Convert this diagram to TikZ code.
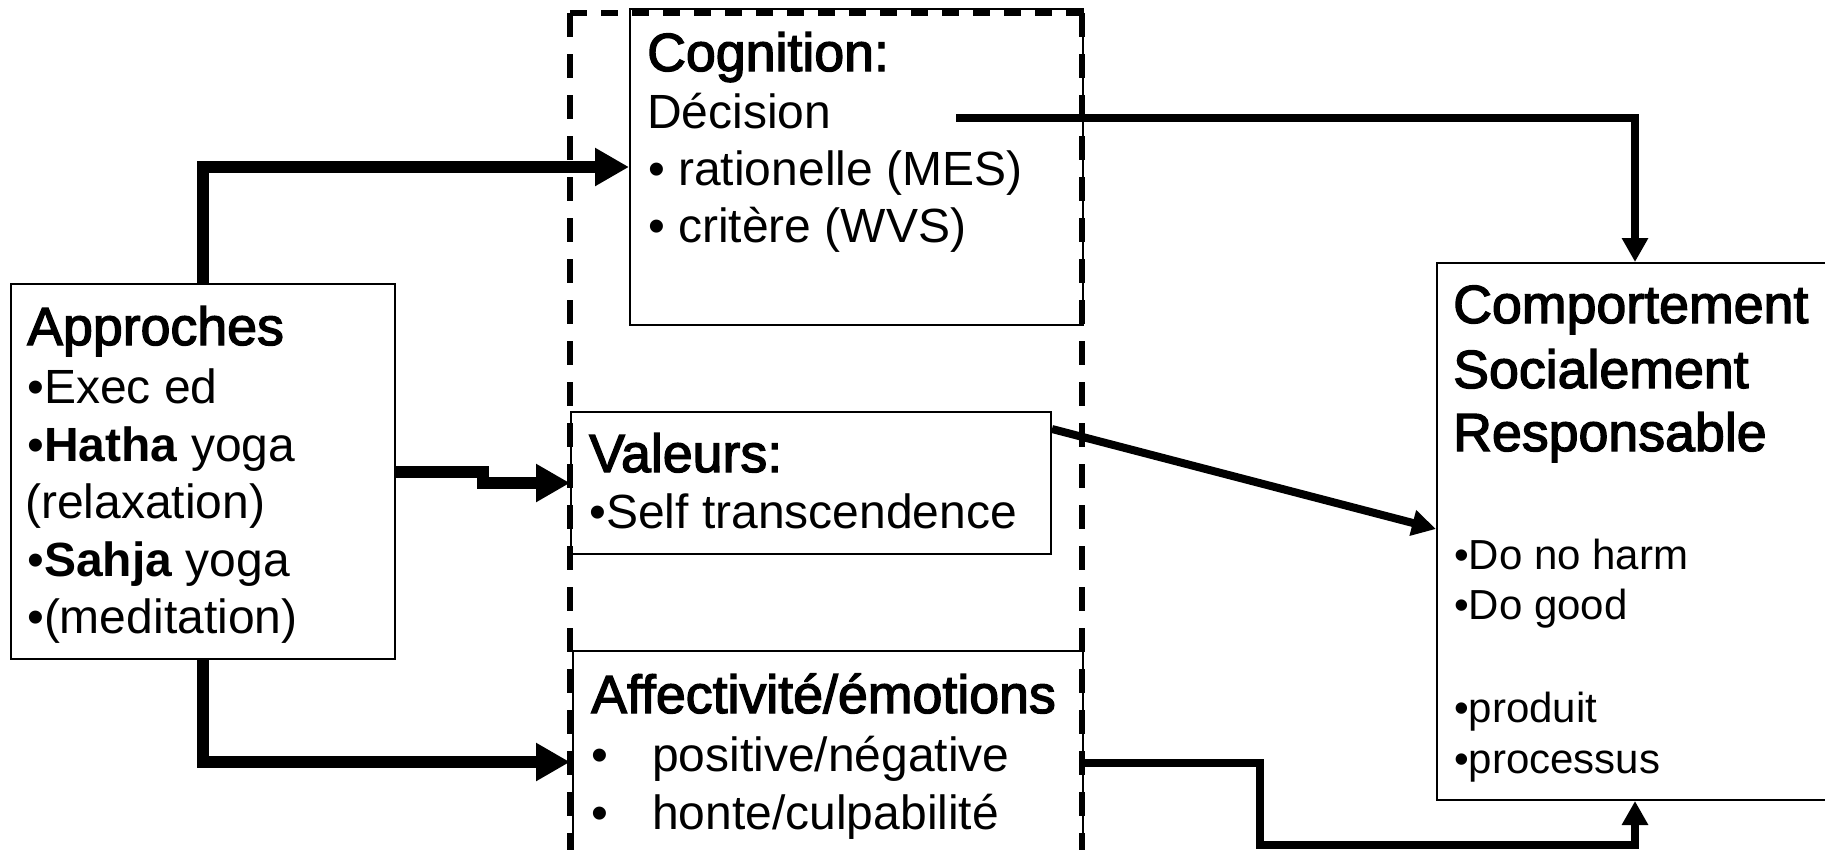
\documentclass[tikz,border=0pt]{standalone}
\usepackage{fontspec}
\setmainfont{Liberation Sans}
\newfontface\titlef{Liberation Sans}[FakeBold=2.5]
\usetikzlibrary{arrows.meta,calc}
\tikzset{
  x=1pt, y=-1pt,
  box/.style={draw, line width=2pt, inner sep=0pt, anchor=north west},
  txt/.style={anchor=base west, inner sep=0pt, font=\fontsize{48}{57}\selectfont},
  smalltxt/.style={anchor=base west, inner sep=0pt, font=\fontsize{42}{50}\selectfont},
  ttl/.style={anchor=base west, inner sep=0pt, font=\titlef\fontsize{53.7}{60}\selectfont},
  thickarr/.style={line width=12pt, -{Triangle[length=34pt,width=36pt]}},
  thinarr/.style={line width=8pt, -{Triangle[length=24pt,width=25pt]}},
  dashtop/.style={line width=6pt, dash pattern=on 17pt off 14pt},
  dashside/.style={line width=6pt, dash pattern=on 24pt off 17pt},
}
\begin{document}
\begin{tikzpicture}
\useasboundingbox (0,0) rectangle (1825,849);
% boxes
\node[box, minimum width=453pt, minimum height=316pt] (cog) at (629,8) {};
\node[box, minimum width=384pt, minimum height=375pt] (app) at (10,283) {};
\node[box, minimum width=480pt, minimum height=142pt] (val) at (570,411) {};
\node[box, minimum width=510pt, minimum height=260pt] (aff) at (572,650) {};
\node[box, minimum width=396pt, minimum height=537pt] (csr) at (1436,262) {};
% dashed frame
\coordinate (dtl) at (570,13);
\coordinate (dtr) at (1082,13);
\coordinate (dbl) at (570,870);
\coordinate (dbr) at (1082,870);
\draw[dashtop] (dtl) -- (dtr);
\draw[dashside] (dtl) -- (dbl);
\draw[dashside] (dtr) -- (dbr);
% Cognition text
\node[ttl] (cogT) at (647,71) {Cognition:};
\node[txt] (cogA) at (647,128) {Décision};
\node[txt] (cogB) at (648,185) {• rationelle (MES)};
\node[txt] (cogC) at (648,242) {• critère (WVS)};
% Approches text
\node[ttl] (appT) at (27,345) {Approches};
\node[txt] (appA) at (27,403) {•Exec ed};
\node[txt] (appB) at (27,461) {•\textbf{Hatha} yoga};
\node[txt] (appC) at (25,518) {(relaxation)};
\node[txt] (appD) at (27,576) {•\textbf{Sahja} yoga};
\node[txt] (appE) at (27,633) {•(meditation)};
% Valeurs text
\node[ttl] (valT) at (589,472) {Valeurs:};
\node[txt] (valA) at (589,528) {•Self transcendence};
% Affectivite text
\node[ttl] (affT) at (591,713) {Affectivité/émotions};
\node[txt] (affA) at (591,771) {\makebox[61pt][l]{•}positive/négative};
\node[txt] (affB) at (591,829) {\makebox[61pt][l]{•}honte/culpabilité};
% CSR text
\node[ttl] (csrT1) at (1453,323) {Comportement};
\node[ttl] (csrT2) at (1453,388) {Socialement};
\node[ttl] (csrT3) at (1453,451) {Responsable};
\node[smalltxt] (csrA) at (1454,569) {•Do no harm};
\node[smalltxt] (csrB) at (1454,619) {•Do good};
\node[smalltxt] (csrC) at (1454,722) {•produit};
\node[smalltxt] (csrD) at (1454,773) {•processus};
% connectors
\draw[thickarr] (app.north) |- (cog.west);
\draw[thickarr] (app.east) -| ($(app.east)!.5!(val.west)$) |- (val.west);
\draw[thickarr] (app.south) |- (570,762);
\coordinate (cogout) at (956,118);
\draw[thinarr] (cogout) -| (csr.north);
\draw[thinarr] (val.east |- 0,429) -- (csr.west |- 0,529);
\coordinate (bend) at (1260,845);
\draw[thinarr] (aff.east |- 0,763) -| (bend) -| (csr.south);
\end{tikzpicture}
\end{document}
